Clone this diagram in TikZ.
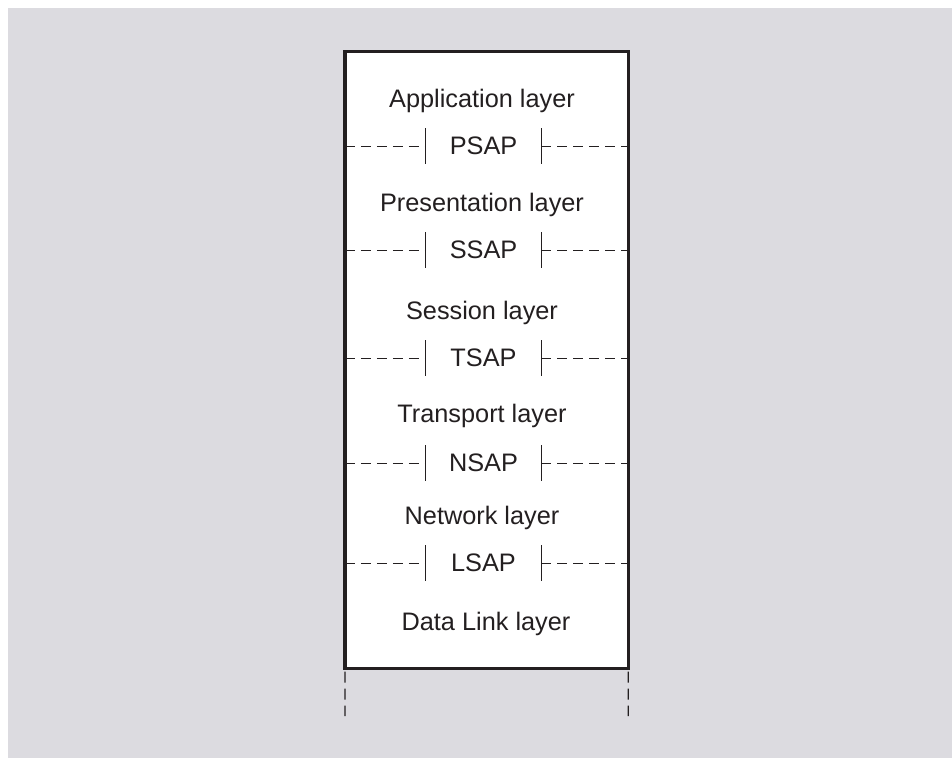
\documentclass[tikz,border=0pt]{standalone}
\usepackage{fontspec}
\setmainfont{Liberation Sans}
\definecolor{ink}{HTML}{231F20}
\definecolor{panel}{HTML}{DCDBE0}

\begin{document}
\begin{tikzpicture}[x=1pt, y=-1pt,
    layer/.style={font=\fontsize{25.3}{30}\selectfont, text=ink, inner sep=0pt},
    sap/.style={layer, minimum width=115pt, minimum height=35pt},
    bar/.style={draw=ink, line width=1.2pt},
    sapdash/.style={draw=ink, line width=0.9pt, dash pattern=on 10pt off 6pt},
    footdash/.style={draw=ink, line width=1.2pt, dash pattern=on 11pt off 6pt}]

  % Background
  \path[use as bounding box] (0,0) rectangle (952,758);
  \fill[panel] (8,8) rectangle (952,758);

  % Stack
  \node[draw=ink, fill=white, line width=3.5pt, outer sep=0pt,
        minimum width=283.3pt, minimum height=617.2pt] (stack) at (486.6,360.1) {};

  % Layers
  \node[layer, anchor=base] (app)  at (482,107) {Application layer};
  \node[layer, anchor=base] (pres) at (482,211) {Presentation layer};
  \node[layer, anchor=base] (sess) at (482,319) {Session layer};
  \node[layer, anchor=base] (tran) at (482,422) {Transport layer};
  \node[layer, anchor=base] (netw) at (482,524) {Network layer};
  \node[layer, anchor=base] (link) at (486,630) {Data Link layer};

  % Service access points
  \node[sap] (psap) at (483.5,146) {PSAP};
  \node[sap] (ssap) at (483.5,250) {SSAP};
  \node[sap] (tsap) at (483.5,358) {TSAP};
  \node[sap] (nsap) at (483.5,463) {NSAP};
  \node[sap] (lsap) at (483.5,563) {LSAP};

  \draw[bar] (psap.north west) -- (psap.south west) (psap.north east) -- (psap.south east);
  \draw[bar] (ssap.north west) -- (ssap.south west) (ssap.north east) -- (ssap.south east);
  \draw[bar] (tsap.north west) -- (tsap.south west) (tsap.north east) -- (tsap.south east);
  \draw[bar] (nsap.north west) -- (nsap.south west) (nsap.north east) -- (nsap.south east);
  \draw[bar] (lsap.north west) -- (lsap.south west) (lsap.north east) -- (lsap.south east);

  \draw[sapdash] (stack.west |- psap) -- (psap.west) (psap.east) -- (stack.east |- psap);
  \draw[sapdash] (stack.west |- ssap) -- (ssap.west) (ssap.east) -- (stack.east |- ssap);
  \draw[sapdash] (stack.west |- tsap) -- (tsap.west) (tsap.east) -- (stack.east |- tsap);
  \draw[sapdash] (stack.west |- nsap) -- (nsap.west) (nsap.east) -- (stack.east |- nsap);
  \draw[sapdash] (stack.west |- lsap) -- (lsap.west) (lsap.east) -- (stack.east |- lsap);

  % Continuation below
  \coordinate (lfoot) at (345,716);
  \coordinate (rfoot) at (628.3,716);
  \draw[footdash] ([yshift=-3pt]stack.south west) -- (lfoot);
  \draw[footdash] ([yshift=-3pt]stack.south east) -- (rfoot);
\end{tikzpicture}
\end{document}
